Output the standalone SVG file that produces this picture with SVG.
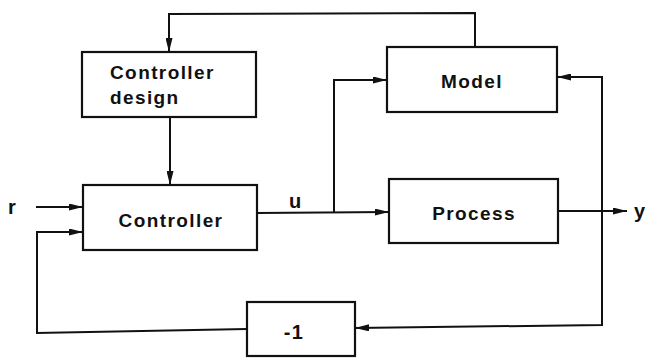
<svg xmlns="http://www.w3.org/2000/svg" width="648" height="358" viewBox="0 0 648 358">
<style>
.box{fill:#fff;stroke:#111;stroke-width:2.2}
.ln{fill:none;stroke:#111;stroke-width:2}
.t{font-family:"Liberation Sans",Arial,sans-serif;font-weight:bold;font-size:19px;letter-spacing:1.4px;fill:#111}
.l{font-size:20px;letter-spacing:0}
.c{text-anchor:middle}
</style>
<defs>
<marker id="ah" viewBox="0 0 14 7" refX="14" refY="3.5" markerWidth="14" markerHeight="7" markerUnits="userSpaceOnUse" orient="auto">
<path d="M0,0 L14,3.5 L0,7 z" fill="#111"/>
</marker>
</defs>
<rect width="648" height="358" fill="#fff"/>
<g id="connectors">
<polyline class="ln" points="475,47 475,13 169,14 169,52" marker-end="url(#ah)"/>
<line class="ln" x1="170" y1="117" x2="170" y2="185" marker-end="url(#ah)"/>
<line class="ln" x1="36" y1="207" x2="83" y2="207" marker-end="url(#ah)"/>
<polyline class="ln" points="247,329 37,333 37,232 83,232" marker-end="url(#ah)"/>
<line class="ln" x1="257" y1="213" x2="389" y2="212" marker-end="url(#ah)"/>
<polyline class="ln" points="334,213 334,80 387,80" marker-end="url(#ah)"/>
<line class="ln" x1="558" y1="211" x2="627" y2="211" marker-end="url(#ah)"/>
<polyline class="ln" points="602,211 602,77 557,77" marker-end="url(#ah)"/>
<polyline class="ln" points="602,211 602,325 355,328" marker-end="url(#ah)"/>
<text class="t l" x="8" y="214">r</text>
<text class="t l" x="289" y="208">u</text>
<text class="t l" x="634" y="218">y</text>
</g>
<g id="controller-design">
<rect class="box" x="82" y="52" width="174" height="65"/>
<text class="t" x="110" y="79">Controller</text>
<text class="t" x="110" y="104">design</text>
</g>
<g id="model">
<rect class="box" x="387" y="47" width="170" height="65"/>
<text class="t c" x="472" y="88">Model</text>
</g>
<g id="controller">
<rect class="box" x="83" y="185" width="174" height="65"/>
<text class="t c" x="171" y="227">Controller</text>
</g>
<g id="process">
<rect class="box" x="389" y="179" width="169" height="64"/>
<text class="t c" x="474" y="220">Process</text>
</g>
<g id="minus-one">
<rect class="box" x="247" y="302" width="108" height="54"/>
<text class="t c" x="294" y="339" style="font-size:20px">-1</text>
</g>
</svg>
